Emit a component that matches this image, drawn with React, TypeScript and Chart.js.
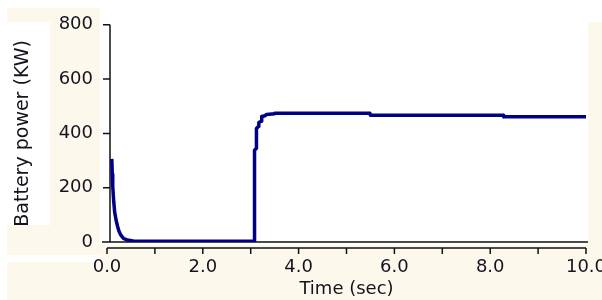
import React, { useEffect, useRef } from "react";
import { Chart, registerables } from "chart.js";
Chart.register(...registerables);

// Battery power trace (samples)
const timeSec = [0.1, 0.11, 0.12, 0.14, 0.16, 0.19, 0.22, 0.25, 0.29, 0.34, 0.42, 0.55, 0.7, 3.07, 3.08, 3.12, 3.12, 3.16, 3.17, 3.22, 3.23, 3.3, 3.33, 3.5, 3.5, 5.49, 5.5, 8.27, 8.28, 10.0];
const powerKW = [306, 250, 205, 150, 110, 80, 58, 40, 25, 14, 7, 4, 3, 3, 338, 345, 418, 425, 440, 445, 462, 465, 470, 472, 474, 474, 467, 467, 461, 461];

const yTickValues = [0, 200, 400, 600, 800];
const xTickValues = [0, 1, 2, 3, 4, 5, 6, 7, 8, 9, 10];
const xLabelValues = [0, 2, 4, 6, 8, 10];

const xTitle = "Time (sec)";
const yTitle = "Battery power (KW)";

const CREAM = "#fdf8ec";
const AXIS = "#111111";
const TEXT = "#141420";
const FONT = "'DejaVu Sans', Verdana, sans-serif";

const decorPlugin = {
  id: "decor",
  beforeDraw(chart: any) {
    const { ctx, width, height } = chart;
    ctx.save();
    ctx.fillStyle = "#ffffff";
    ctx.fillRect(0, 0, width, height);
    ctx.fillStyle = CREAM;
    ctx.fillRect(7, 245, width - 7, height - 245);
    ctx.fillRect(7, 8, 93, 237);
    ctx.fillRect(588, 22, width - 588, 223);
    ctx.fillStyle = "#ffffff";
    ctx.fillRect(7, 22, 43, 203);
    ctx.fillRect(7, 255, 93, 7);
    ctx.restore();
  },
  beforeDatasetsDraw(chart: any) {
    const { ctx } = chart;
    const xs = chart.scales.x;
    const ys = chart.scales.y;
    const x0 = xs.getPixelForValue(0);
    const x10 = xs.getPixelForValue(10);
    const y0 = ys.getPixelForValue(0);
    const yTop = ys.getPixelForValue(800);
    const yAxisX = x0 + 3;
    ctx.save();
    ctx.strokeStyle = AXIS;
    ctx.lineWidth = 1.5;
    ctx.beginPath();
    ctx.moveTo(yAxisX, yTop);
    ctx.lineTo(yAxisX, y0);
    yTickValues.forEach((v) => {
      const y = ys.getPixelForValue(v);
      ctx.moveTo(yAxisX, y);
      ctx.lineTo(yAxisX - 7, y);
    });
    ctx.moveTo(x0 - 5, y0);
    ctx.lineTo(x10 + 2, y0);
    const xa = y0 + 6;
    ctx.moveTo(x0, xa);
    ctx.lineTo(x10, xa);
    xTickValues.forEach((v) => {
      const x = xs.getPixelForValue(v);
      ctx.moveTo(x, xa);
      ctx.lineTo(x, xa + 6);
    });
    ctx.stroke();
    ctx.restore();
  },
};

export default function App() {
  const ref = useRef<HTMLCanvasElement | null>(null);
  useEffect(() => {
    document.body.style.margin = "0";
    const canvas = ref.current;
    if (!canvas) return;
    const chart = new Chart(canvas, {
      type: "line",
      data: {
        datasets: [
          {
            data: timeSec.map((t, i) => ({ x: t, y: powerKW[i] })),
            borderColor: "#000086",
            borderWidth: 3.5,
            borderJoinStyle: "round",
            borderCapStyle: "butt",
            pointRadius: 0,
            tension: 0,
            fill: false,
          },
        ],
      },
      plugins: [decorPlugin],
      options: {
        responsive: false,
        animation: false,
        layout: { padding: { top: 24, right: 16, left: 0, bottom: 0 } },
        plugins: { legend: { display: false }, tooltip: { enabled: false } },
        scales: {
          x: {
            type: "linear",
            min: 0,
            max: 10,
            afterBuildTicks: (s: any) => {
              s.ticks = xTickValues.map((v) => ({ value: v }));
            },
            afterFit: (s: any) => {
              s.height = 58;
              s.paddingLeft = 0;
              s.paddingRight = 0;
            },
            grid: { display: false, drawTicks: false },
            border: { display: false },
            ticks: {
              autoSkip: false,
              maxRotation: 0,
              padding: 15,
              color: TEXT,
              font: { family: FONT, size: 18 },
              callback: (v: any) => (xLabelValues.includes(Number(v)) ? Number(v).toFixed(1) : ""),
            },
            title: {
              display: true,
              text: xTitle,
              color: TEXT,
              font: { family: FONT, size: 18 },
              padding: { top: 0, bottom: 0 },
            },
          },
          y: {
            type: "linear",
            min: 0,
            max: 800,
            afterBuildTicks: (s: any) => {
              s.ticks = yTickValues.map((v) => ({ value: v }));
            },
            afterFit: (s: any) => {
              s.width = 107;
            },
            grid: { display: false, drawTicks: false },
            border: { display: false },
            ticks: {
              padding: 14,
              color: TEXT,
              font: { family: FONT, size: 18 },
              callback: (v: any) => String(v),
            },
            title: {
              display: true,
              text: yTitle,
              color: TEXT,
              font: { family: FONT, size: 19 },
              padding: { top: 12, bottom: 0 },
            },
          },
        },
      },
    });
    return () => chart.destroy();
  }, []);
  return (
    <div style={{ width: 602, height: 300 }}>
      <canvas ref={ref} width={602} height={300} />
    </div>
  );
}
